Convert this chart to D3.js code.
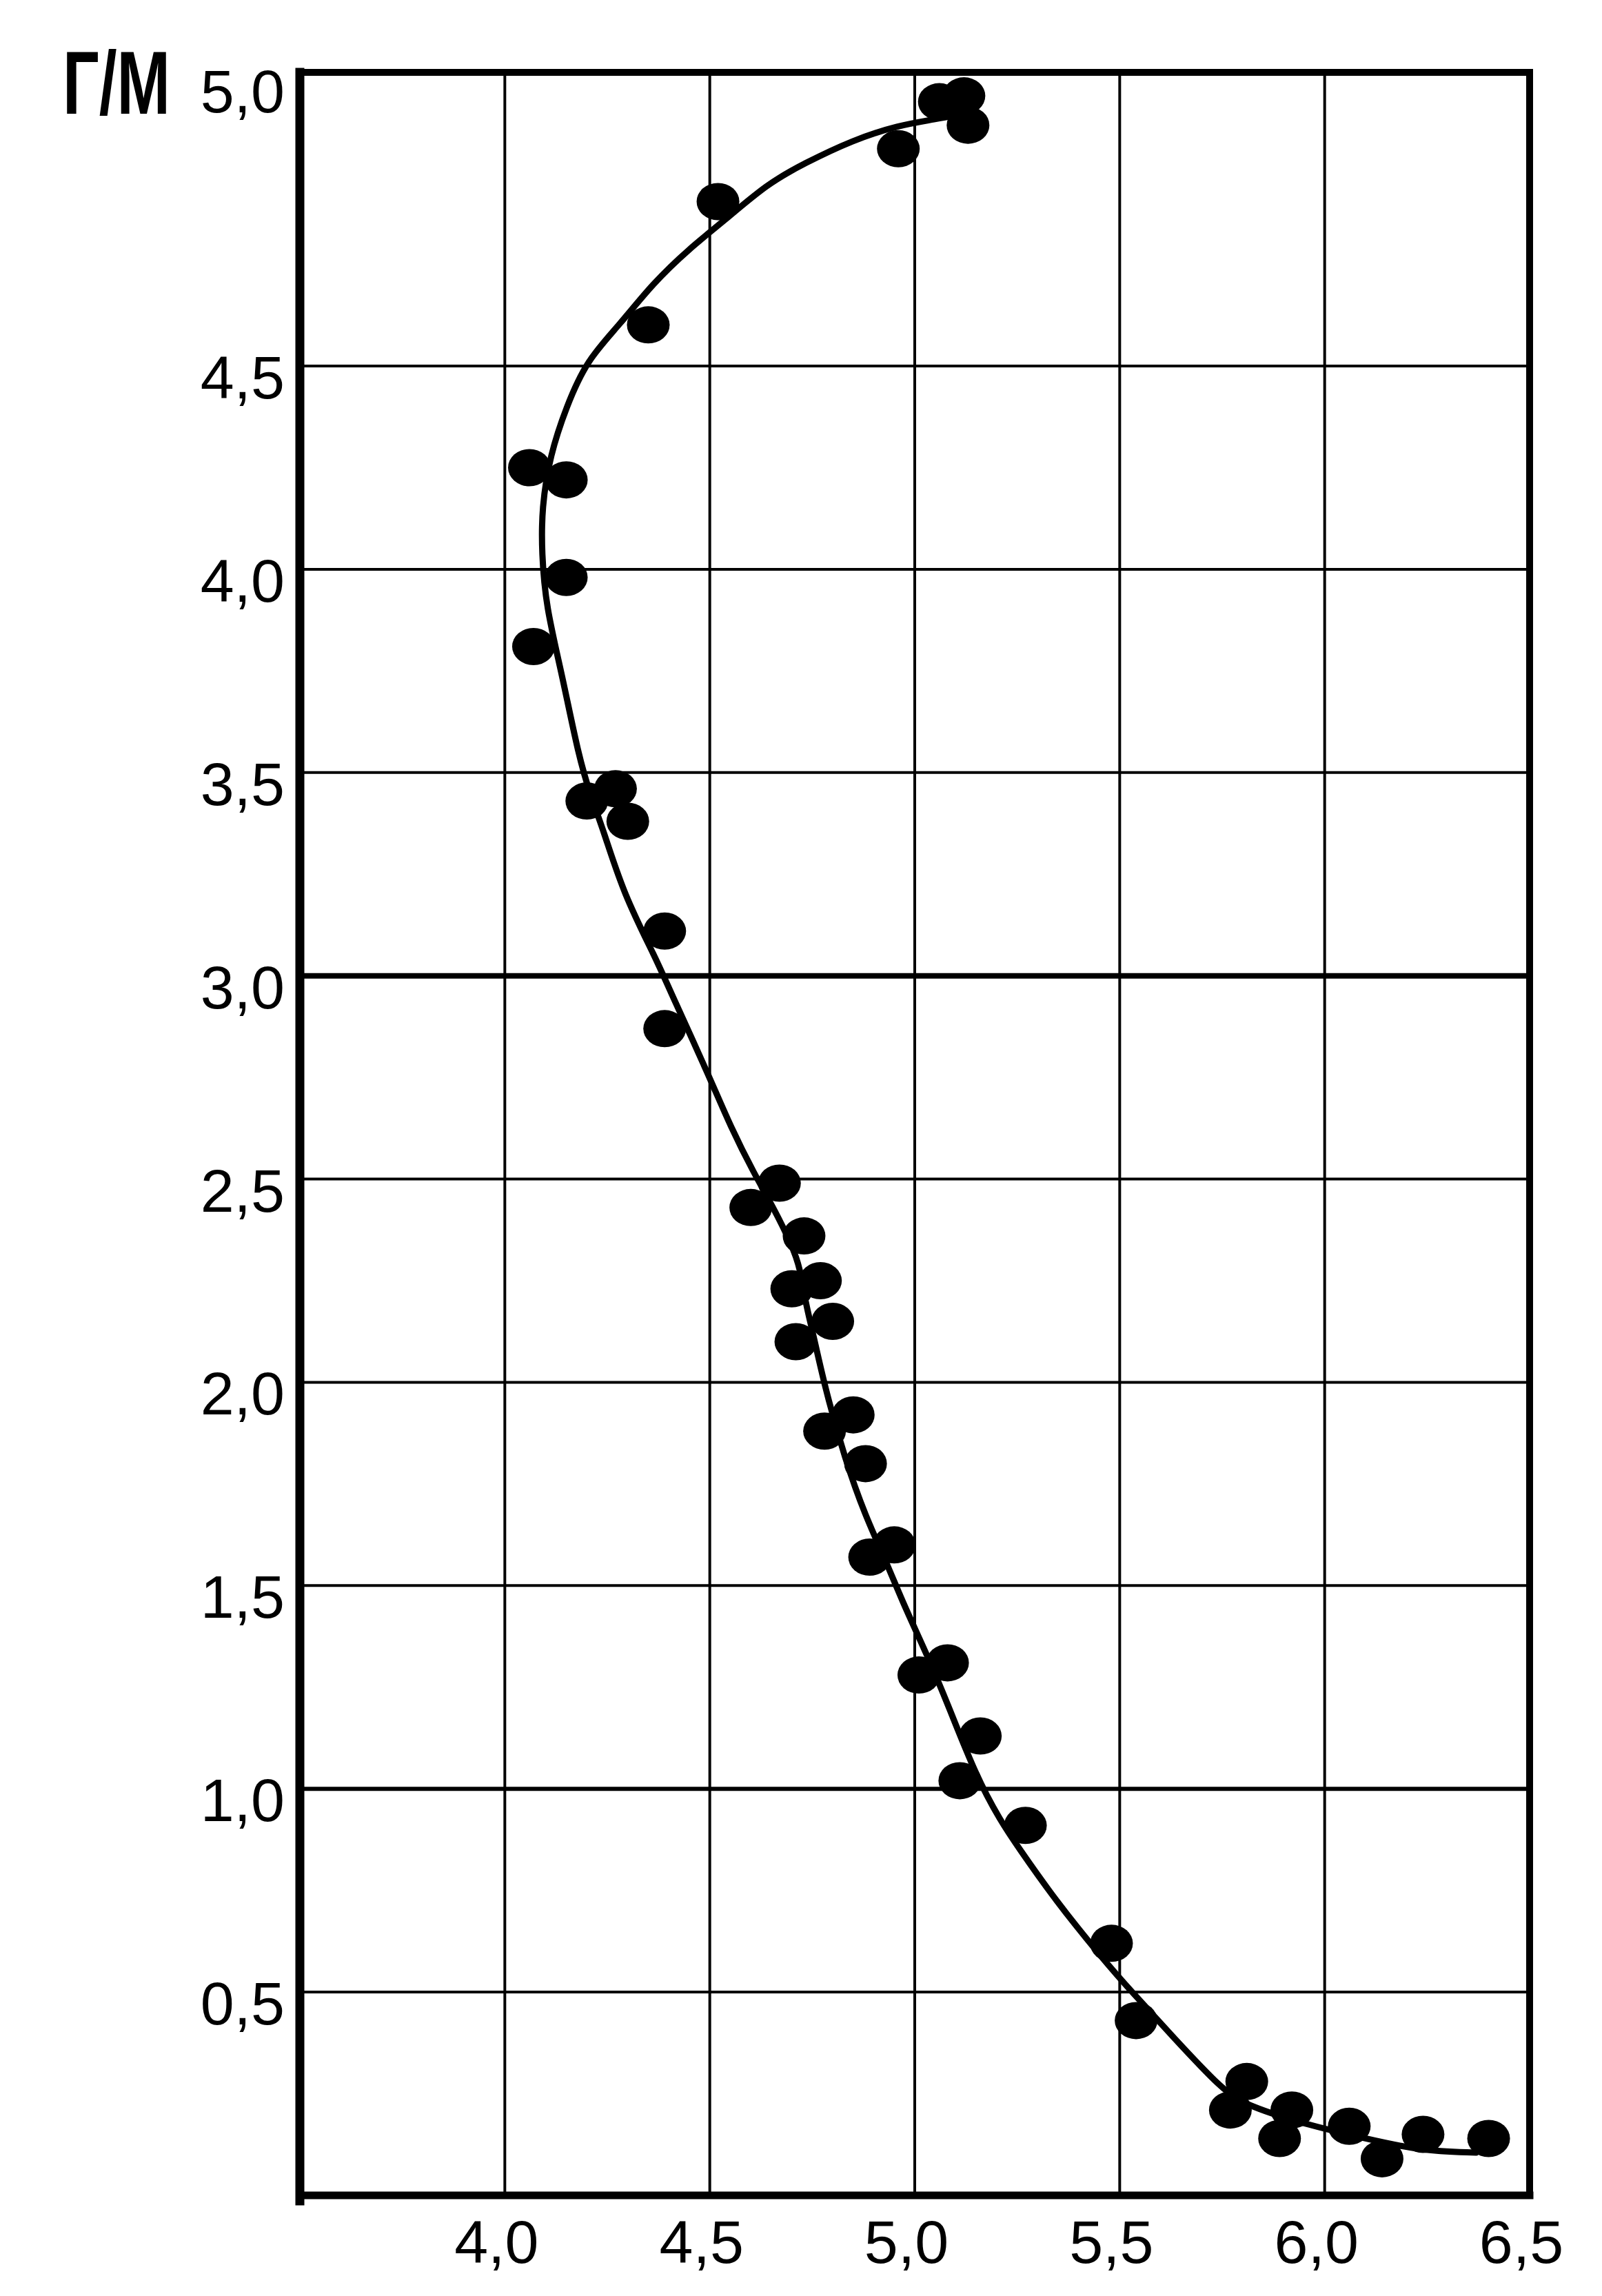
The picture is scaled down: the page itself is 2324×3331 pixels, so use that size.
<!DOCTYPE html>
<html><head><meta charset="utf-8">
<script src="https://cdn.jsdelivr.net/npm/d3@7/dist/d3.min.js"></script>
<style>html,body{margin:0;padding:0;background:#fff;} svg{display:block;}</style>
</head><body>
<svg id="chart" width="2324" height="3331"></svg>
<script>
// ---- data ----
const unitLabel = "Г/М";
const xTicks = [4.0, 4.5, 5.0, 5.5, 6.0, 6.5];
const xTickLabels = ["4,0", "4,5", "5,0", "5,5", "6,0", "6,5"];
const yTicks = [0.5, 1.0, 1.5, 2.0, 2.5, 3.0, 3.5, 4.0, 4.5, 5.0];
const yTickLabels = ["0,5", "1,0", "1,5", "2,0", "2,5", "3,0", "3,5", "4,0", "4,5", "5,0"];

const pointX = [5.06, 5.12, 5.13, 4.96, 4.52, 4.35, 4.06, 4.15, 4.15, 4.07,
                4.20, 4.27, 4.30, 4.39, 4.39, 4.67, 4.60, 4.73, 4.70, 4.77,
                4.80, 4.71, 4.85, 4.78, 4.88, 4.89, 4.95, 5.01, 5.08, 5.16,
                5.11, 5.27, 5.48, 5.54, 5.81, 5.77, 5.92, 5.89, 6.06, 6.14,
                6.24, 6.40];
const pointY = [4.95, 4.96, 4.91, 4.87, 4.78, 4.57, 4.25, 4.22, 3.98, 3.81,
                3.43, 3.46, 3.38, 3.11, 2.87, 2.49, 2.43, 2.36, 2.23, 2.25,
                2.15, 2.10, 1.92, 1.88, 1.80, 1.57, 1.60, 1.28, 1.31, 1.13,
                1.02, 0.91, 0.62, 0.43, 0.28, 0.21, 0.21, 0.14, 0.17, 0.09,
                0.15, 0.14];

const curveX = [5.12, 5.05, 4.96, 4.85, 4.73, 4.64, 4.54, 4.45, 4.36, 4.28,
                4.20, 4.15, 4.11, 4.09, 4.09, 4.10, 4.14, 4.18, 4.21, 4.24,
                4.29, 4.37, 4.40, 4.50, 4.55, 4.61, 4.65, 4.72, 4.73, 4.75,
                4.78, 4.83, 4.88, 4.93, 4.97, 5.03, 5.08, 5.15, 5.21, 5.25,
                5.34, 5.46, 5.53, 5.63, 5.75, 5.81, 5.97, 6.10, 6.23, 6.37];
const curveY = [4.93, 4.92, 4.91, 4.885, 4.845, 4.81, 4.75, 4.70, 4.64, 4.57,
                4.51, 4.40, 4.28, 4.15, 4.04, 3.91, 3.74, 3.54, 3.44, 3.36,
                3.20, 3.04, 2.97, 2.75, 2.63, 2.51, 2.44, 2.30, 2.21, 2.13,
                1.99, 1.81, 1.67, 1.56, 1.46, 1.33, 1.21, 1.03, 0.92, 0.86,
                0.73, 0.58, 0.50, 0.39, 0.26, 0.22, 0.17, 0.14, 0.11, 0.105];

// ---- scales ----
const x = d3.scaleLinear().domain([3.5, 6.5]).range([435, 2219]);
const y = d3.scaleLinear().domain([0, 4.5, 5.0]).range([3185, 531, 105]);

const svg = d3.select("#chart");
svg.append("rect").attr("width", 2324).attr("height", 3331).attr("fill", "#fff");

const [x0, x1] = x.range();
const y0 = y(0), y1 = y(5.0);

// grid: vertical
svg.append("g").selectAll("line").data(xTicks.filter(v => v < 6.5)).join("line")
  .attr("x1", d => x(d)).attr("x2", d => x(d))
  .attr("y1", y1).attr("y2", y0)
  .attr("stroke", "#000").attr("stroke-width", 4);

// grid: horizontal
svg.append("g").selectAll("line").data(yTicks.filter(v => v < 5.0)).join("line")
  .attr("x1", x0).attr("x2", x1)
  .attr("y1", d => y(d)).attr("y2", d => y(d))
  .attr("stroke", "#000")
  .attr("stroke-width", d => d === 3.0 ? 8 : (d === 1.0 ? 6 : 4));

// frame
const frame = svg.append("g").attr("stroke", "#000").attr("stroke-linecap", "square");
frame.append("line").attr("x1", x0).attr("x2", x0).attr("y1", y1).attr("y2", y0 + 8).attr("stroke-width", 13);
frame.append("line").attr("x1", x1).attr("x2", x1).attr("y1", y1).attr("y2", y0).attr("stroke-width", 10);
frame.append("line").attr("x1", x0).attr("x2", x1).attr("y1", y1).attr("y2", y1).attr("stroke-width", 10);
frame.append("line").attr("x1", x0).attr("x2", x1).attr("y1", y0).attr("y2", y0).attr("stroke-width", 11);

// curve
const curvePts = curveX.map((v, i) => [v, curveY[i]]);
svg.append("path")
  .datum(curvePts)
  .attr("fill", "none").attr("stroke", "#000").attr("stroke-width", 9)
  .attr("stroke-linecap", "round").attr("stroke-linejoin", "round")
  .attr("d", d3.line().x(d => x(d[0])).y(d => y(d[1])).curve(d3.curveBasis));

// points
const pts = pointX.map((v, i) => [v, pointY[i]]);
svg.append("g").selectAll("ellipse").data(pts).join("ellipse")
  .attr("cx", d => x(d[0])).attr("cy", d => y(d[1]))
  .attr("rx", 31).attr("ry", 27).attr("fill", "#000");

// y tick labels
const font = "'Liberation Sans', Arial, sans-serif";
svg.append("g").selectAll("text").data(yTicks).join("text")
  .attr("x", 413).attr("y", d => y(d) + (d === 5.0 ? 58 : 47))
  .attr("text-anchor", "end")
  .attr("font-family", font).attr("font-size", 88).attr("fill", "#000")
  .text((d, i) => yTickLabels[i]);

// x tick labels
svg.append("g").selectAll("text").data(xTicks).join("text")
  .attr("x", d => x(d) - 12).attr("y", y0 + 98)
  .attr("text-anchor", "middle")
  .attr("font-family", font).attr("font-size", 88).attr("fill", "#000")
  .text((d, i) => xTickLabels[i]);

// unit label (tall, narrow glyphs)
svg.append("text")
  .attr("transform", "translate(91,165) scale(1,1.4)")
  .attr("font-family", font).attr("font-weight", "bold").attr("font-size", 93)
  .attr("fill", "#000")
  .text(unitLabel);
</script>
</body></html>
